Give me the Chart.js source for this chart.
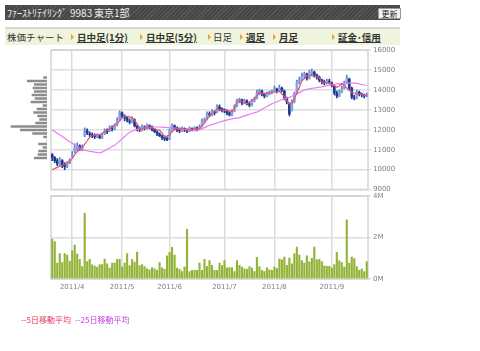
<!DOCTYPE html>
<html>
<head>
<meta charset="utf-8">
<script src="https://cdn.jsdelivr.net/npm/chart.js@4.4.1/dist/chart.umd.min.js"></script>
<style>
body{margin:0;width:480px;height:351px;overflow:hidden;background:#fff;position:relative;font-family:"Noto Sans CJK JP",sans-serif}
#head{position:absolute;left:5px;top:5px;width:395px;height:15px;background:repeating-linear-gradient(135deg,#585858 0 1px,#464646 1px 3px);color:#eee;font-size:10px;line-height:15px}
#head span{position:absolute;top:0}
#btn{position:absolute;left:373px;top:3px;width:21px;height:9px;background:#f4f4f4;border:1px solid #999;color:#222;font-size:8px;line-height:9px;text-align:center}
#nav{position:absolute;left:5px;top:27px;width:395px;height:16px;background:#eef5dc;border-top:2px solid #d6d6d6}
#nav span{position:absolute;top:0;font-size:9.5px;line-height:16px;color:#333;white-space:nowrap}
#nav .lk{font-weight:bold;text-decoration:underline}
#nav .tri{top:5px;width:0;height:0;border-left:3px solid #f0a02a;border-top:3px solid transparent;border-bottom:3px solid transparent}
canvas{position:absolute}
#legend span{position:absolute;top:314px;font-size:8px;white-space:nowrap}
</style>
</head>
<body>
<div id="head">
  <span style="left:2px">ﾌｧｰｽﾄﾘﾃｲﾘﾝｸﾞ</span>
  <span style="left:65px">9983</span>
  <span style="left:89px">東京1部</span>
  <div id="btn">更新</div>
</div>
<div id="nav">
  <span style="left:2px">株価チャート</span>
  <span class="tri" style="left:66px"></span><span class="lk" style="left:72px">日中足(1分)</span>
  <span class="tri" style="left:135px"></span><span class="lk" style="left:141px">日中足(5分)</span>
  <span class="tri" style="left:203px"></span><span style="left:208px">日足</span>
  <span class="tri" style="left:235px"></span><span class="lk" style="left:241px">週足</span>
  <span class="tri" style="left:268px"></span><span class="lk" style="left:274px">月足</span>
  <span class="tri" style="left:327px"></span><span class="lk" style="left:333px">証金･信用</span>
</div>
<canvas id="vbp" width="47" height="152" style="left:0;top:44px;width:47px;height:152px"></canvas>
<canvas id="price" width="370" height="152" style="left:45px;top:44px;width:370px;height:152px"></canvas>
<canvas id="vol" width="370" height="110" style="left:45px;top:190px;width:370px;height:110px"></canvas>
<div id="legend">
  <span style="left:21px;color:#e8385f">--5日移動平均</span>
  <span style="left:75px;color:#c83ce8">--25日移動平均</span>
</div>
<script>
// trading days 2011/3/22 - 2011/9/22
const monthTicks = ['2011/4', '2011/5', '2011/6', '2011/7', '2011/8', '2011/9'];
const monthStart = [8, 28, 47, 69, 89, 112];

const opens = [
  10750,10600,10450,10250,10450,10250,10150,10350,10650,10900,
  11050,11200,11000,11700,11950,11800,11750,11700,11650,11700,
  11600,11800,11950,11950,12100,12050,12250,12500,12850,12650,
  12600,12450,12400,12500,12200,12050,12000,12150,12100,12200,
  12150,12000,11900,11800,11700,11600,11550,11550,11950,12200,
  12100,12000,11950,12050,12000,11950,12050,12000,12100,12050,
  12200,12450,12550,12800,12750,12900,12900,13150,13050,13000,
  12950,12850,12750,12950,13200,13450,13500,13350,13450,13300,
  13250,13450,13600,13850,13950,13800,13700,13800,13850,13950,
  14050,13950,14100,13950,13550,13300,13000,13400,13850,14400,
  14500,14700,14800,14600,14850,14900,14750,14650,14500,14400,
  14350,14450,14350,14200,13850,13700,13900,14100,14350,14550,
  14100,13650,13600,13900,13800,13750,13700
];
const highs = [
  10800,10650,10550,10600,10500,10350,10400,10550,10900,11300,
  11350,11250,11250,12100,12050,11900,11850,11800,11800,11750,
  11850,12050,12050,12200,12200,12300,12600,12950,12900,12750,
  12650,12550,12650,12550,12250,12150,12250,12200,12300,12250,
  12200,12050,11950,11850,11750,11700,11650,12050,12300,12250,
  12150,12100,12150,12100,12050,12150,12100,12150,12150,12250,
  12550,12600,12900,12900,13000,12950,13250,13250,13100,13050,
  13000,12900,13000,13250,13550,13600,13550,13550,13500,13350,
  13550,13650,14000,14050,14000,13850,13900,13950,14000,14200,
  14100,14250,14150,14000,13650,13350,13500,13900,14500,14650,
  14850,14900,14850,15000,15050,14950,14800,14700,14550,14500,
  14550,14550,14400,14250,13950,14000,14200,14450,14750,14600,
  14150,13750,14000,13950,13850,13800,13850
];
const lows = [
  10450,10350,10200,10200,10100,10000,10100,10300,10600,10850,
  10950,10950,10950,11650,11750,11650,11600,11550,11600,11550,
  11550,11750,11800,11900,11950,12000,12200,12450,12600,12450,
  12400,12300,12350,12150,11950,11900,11950,12000,12050,12050,
  11950,11850,11700,11650,11500,11450,11450,11500,11900,12000,
  11900,11850,11900,11900,11850,11900,11950,11950,11950,12000,
  12150,12350,12500,12650,12700,12750,12850,12950,12900,12850,
  12750,12700,12700,12900,13150,13350,13250,13300,13250,13150,
  13200,13400,13550,13750,13700,13600,13650,13750,13800,13900,
  13850,13900,13900,13500,13300,12700,12950,13350,13800,14300,
  14450,14600,14500,14550,14750,14650,14550,14400,14300,14250,
  14300,14300,14150,13750,13600,13650,13850,14050,14300,14000,
  13550,13500,13550,13700,13650,13600,13650
];
const closes = [
  10600,10450,10300,10500,10200,10150,10350,10450,10750,11100,
  11200,11050,11150,11900,11850,11750,11700,11650,11700,11600,
  11750,11950,11900,12100,12050,12200,12450,12850,12700,12600,
  12500,12400,12550,12200,12050,12000,12150,12100,12200,12150,
  12000,11900,11800,11700,11600,11550,11500,11950,12200,12100,
  12000,11950,12050,12000,11950,12050,12000,12100,12050,12150,
  12450,12500,12800,12750,12900,12850,13150,13050,13000,12950,
  12850,12750,12900,13150,13450,13500,13350,13450,13300,13250,
  13450,13550,13850,13950,13800,13700,13800,13850,13900,14050,
  13950,14100,14000,13600,13400,12800,13400,13800,14400,14450,
  14700,14800,14600,14850,14900,14750,14650,14500,14400,14350,
  14450,14400,14250,13850,13700,13900,14100,14350,14600,14100,
  13650,13600,13900,13800,13750,13700,13750
];
const ma5 = [
  10000,10050,10110,10170,10230,10280,10330,10400,10550,10750,
  10900,11000,11080,11280,11450,11640,11700,11740,11760,11770,
  11800,11900,11975,12050,12120,12250,12310,12450,12600,12675,
  12680,12650,12600,12475,12300,12060,12050,12080,12100,12110,
  12100,12050,12000,11975,11850,11640,11700,11725,11900,12060,
  12060,12060,12060,12030,12010,12000,12010,12030,12050,12060,
  12200,12350,12550,12700,12800,12900,13050,13000,12975,12980,
  12975,12950,12890,13100,13390,13475,13420,13360,13310,13400,
  13475,13550,13725,13890,13850,13810,13840,13870,13900,13900,
  13900,13950,13800,13680,13475,13300,13350,13560,13850,14140,
  14475,14560,14725,14725,14725,14700,14675,14610,14390,14390,
  14370,14340,14280,14225,14140,14200,14310,14225,14100,13975,
  13900,13850,13810,13800,13780,13725,13725
];
const ma25 = [
  12000,11920,11830,11750,11660,11580,11490,11400,11320,11240,
  11160,11080,11000,10970,10950,10920,10900,10880,10860,10840,
  10880,10950,11020,11090,11160,11225,11330,11440,11550,11660,
  11770,11880,11930,11980,12020,12050,12080,12100,12110,12120,
  12130,12140,12140,12140,12130,12120,12110,12110,12100,12090,
  12070,12050,12030,12010,12000,11990,11980,11975,11990,12020,
  12060,12110,12170,12225,12260,12300,12340,12380,12420,12460,
  12490,12520,12550,12570,12590,12610,12650,12700,12740,12780,
  12820,12860,12890,12960,13030,13100,13170,13240,13310,13360,
  13410,13460,13510,13560,13600,13630,13690,13750,13810,13870,
  13930,14000,14030,14060,14080,14100,14120,14140,14160,14190,
  14220,14240,14260,14290,14310,14320,14330,14340,14350,14350,
  14350,14350,14330,14300,14270,14250,14225
];
// volume, millions of shares
const volumes = [
  1.94,1.82,0.78,1.25,0.81,1.25,1.17,0.87,1.38,1.65,
  1.22,0.97,0.62,3.19,0.86,0.97,0.70,0.64,0.59,0.71,
  0.71,0.98,0.75,0.54,0.79,0.79,0.97,0.97,0.60,0.78,
  1.24,0.67,0.95,0.83,1.32,0.67,0.71,0.62,0.51,0.46,
  0.57,0.51,0.43,0.81,0.56,0.48,1.13,1.30,1.54,1.17,
  0.54,0.48,0.38,0.60,2.41,0.38,0.43,0.44,0.43,0.78,
  0.43,0.97,0.62,0.90,0.68,0.43,0.43,0.78,0.67,0.90,
  0.56,0.57,0.57,0.38,0.90,0.68,0.59,0.51,0.48,0.62,
  0.54,0.37,1.06,0.62,0.43,0.37,0.56,0.46,0.44,0.59,
  0.52,0.98,0.94,1.08,0.68,1.03,0.75,1.25,1.56,1.17,
  0.90,0.78,1.13,0.84,1.02,1.56,0.94,0.97,0.86,0.65,
  0.63,0.63,0.54,0.71,1.30,0.89,0.81,0.59,2.87,0.78,
  1.08,1.00,0.62,0.43,0.49,0.37,0.84
];
// volume by price (relative)
const vbpLevels = [14900,14700,14500,14300,14100,13900,13700,13500,13300,13100,12900,12700,
                   12500,12300,12100,11900,11700,11500,11300,11100,10900,10700,10500,10300];
const vbpVolume = [3.4,19.7,12.7,14,12.7,15,12,16,4,10,13.4,9.4,
                   7.4,11.4,36,26.7,14.4,3.4,0,8.4,4,8.4,9,12.7];

const priceTicks = [9000, 16000, 1000];
const volTicks = [0, 4, 2];

const labels = Array(closes.length).fill('');
monthStart.forEach((idx, k) => { labels[idx] = monthTicks[k]; });

const tickFont = { family: 'DejaVu Sans', size: 7 };
const gridX = ctx => labels[ctx.index] ? '#dcdcdc' : 'rgba(0,0,0,0)';

const frame = {
  id: 'frame',
  beforeDatasetsDraw(chart) {
    const a = chart.chartArea, c = chart.ctx;
    c.save();
    c.strokeStyle = '#d4d4d4';
    c.lineWidth = 1.5;
    c.strokeRect(a.left, a.top, a.right - a.left, a.bottom - a.top);
    c.restore();
  }
};

const up = i => closes[i] >= opens[i];

new Chart(document.getElementById('price'), {
  type: 'bar',
  data: {
    labels: labels,
    datasets: [
      {
        data: lows.map((l, i) => [l, highs[i]]),
        backgroundColor: ctx => up(ctx.dataIndex) ? '#5d7fc6' : '#1f3d96',
        barThickness: 1, grouped: false, order: 4
      },
      {
        data: opens.map((o, i) => [o, closes[i]]),
        backgroundColor: ctx => up(ctx.dataIndex) ? '#88a6dc' : '#1c3a94',
        barThickness: 2, minBarLength: 1, grouped: false, order: 3
      },
      { type: 'line', data: ma25, borderColor: '#e47ff4', borderWidth: 1.2, pointRadius: 0, order: 2 },
      { type: 'line', data: ma5, borderColor: '#ec4f78', borderWidth: 1.2, pointRadius: 0, order: 1 }
    ]
  },
  options: {
    animation: false, responsive: false,
    layout: { padding: { left: 6, top: 5.5, right: 0, bottom: 6.5 } },
    plugins: { legend: { display: false }, tooltip: { enabled: false } },
    scales: {
      x: {
        offset: true,
        ticks: { display: false },
        grid: { offset: false, color: gridX, lineWidth: 1.5, drawTicks: false },
        border: { display: false },
        afterFit: s => { s.height = 0; }
      },
      y: {
        position: 'right', min: priceTicks[0], max: priceTicks[1],
        ticks: { stepSize: priceTicks[2], color: '#808080', font: tickFont, padding: 2, callback: v => String(v) },
        grid: { color: '#dedede', lineWidth: 1.5, tickLength: 3 },
        border: { display: false },
        afterFit: s => { s.width = 47; }
      }
    }
  },
  plugins: [frame]
});

new Chart(document.getElementById('vol'), {
  type: 'bar',
  data: {
    labels: labels,
    datasets: [{ data: volumes, backgroundColor: '#92b338', barPercentage: 0.85, categoryPercentage: 1 }]
  },
  options: {
    animation: false, responsive: false,
    layout: { padding: { left: 6, top: 5, right: 0, bottom: 0 } },
    plugins: { legend: { display: false }, tooltip: { enabled: false } },
    scales: {
      x: {
        offset: true,
        ticks: { autoSkip: false, maxRotation: 0, color: '#808080', font: tickFont, padding: 4 },
        grid: { offset: false, color: gridX, lineWidth: 1.5, drawTicks: false },
        border: { display: false },
        afterFit: s => { s.height = 21; }
      },
      y: {
        position: 'right', min: volTicks[0], max: volTicks[1],
        ticks: { stepSize: volTicks[2], color: '#808080', font: tickFont, padding: 2, callback: v => v + 'M' },
        grid: { color: '#dedede', lineWidth: 1.5, tickLength: 3 },
        border: { display: false },
        afterFit: s => { s.width = 47; }
      }
    }
  },
  plugins: [frame]
});

new Chart(document.getElementById('vbp'), {
  type: 'bar',
  data: {
    datasets: [{
      data: vbpLevels.map((p, i) => ({ x: vbpVolume[i], y: p })),
      backgroundColor: '#8c8c8c', barThickness: 2
    }]
  },
  options: {
    indexAxis: 'y', animation: false, responsive: false,
    layout: { padding: { left: 0, top: 5.5, right: 0, bottom: 6.5 } },
    plugins: { legend: { display: false }, tooltip: { enabled: false } },
    scales: {
      x: { type: 'linear', reverse: true, min: 0, max: 47, display: false },
      y: { type: 'linear', min: priceTicks[0], max: priceTicks[1], display: false }
    }
  }
});
</script>
</body>
</html>
